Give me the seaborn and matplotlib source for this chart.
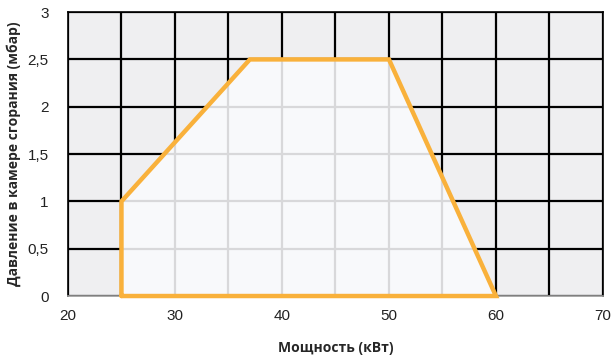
import numpy as np
import pandas as pd
import matplotlib
matplotlib.use("Agg")
import matplotlib.pyplot as plt
import seaborn as sns

# operating field of the burner
power_kw = [25, 25, 37, 50, 60, 25]
pressure_mbar = [0, 1, 2.5, 2.5, 0, 0]

x_ticks = [20, 30, 40, 50, 60, 70]
y_ticks = [0, 0.5, 1, 1.5, 2, 2.5, 3]
y_tick_labels = ["0", "0,5", "1", "1,5", "2", "2,5", "3"]
x_grid = np.arange(20, 71, 5)
y_grid = np.arange(0, 3.01, 0.5)

sns.set_style("white")
plt.rcParams["font.family"] = ["Liberation Sans", "DejaVu Sans"]

fig = plt.figure(figsize=(6.14, 3.56), dpi=100)
ax = fig.add_axes([0.1107, 0.1685, 0.8713, 0.7975])
ax.set_facecolor("#efeff1")
ax.set_xlim(20, 70)
ax.set_ylim(0, 3)

# black grid outside the field
for gx in x_grid:
    ax.axvline(gx, color="black", lw=1.6, zorder=1)
for gy in y_grid:
    ax.axhline(gy, color="black", lw=1.6, zorder=1)

df = pd.DataFrame({"power": power_kw, "pressure": pressure_mbar})
patch = ax.fill(df["power"], df["pressure"], color="#f8f9fb", zorder=2)[0]

# light grid inside the field
for gx in x_grid:
    ln = ax.axvline(gx, color="#d8d8da", lw=1.6, zorder=3)
    ln.set_clip_path(patch)
for gy in y_grid:
    ln = ax.axhline(gy, color="#d8d8da", lw=1.6, zorder=3)
    ln.set_clip_path(patch)

sns.lineplot(data=df, x="power", y="pressure", sort=False, estimator=None,
             color="#f9b13b", lw=3.2, ax=ax, zorder=4)
for l in ax.lines[-1:]:
    l.set_clip_on(False)
    l.set_solid_joinstyle("miter")

ax.set_xticks(x_ticks)
ax.set_yticks(y_ticks)
ax.set_yticklabels(y_tick_labels)
ax.tick_params(length=0, labelsize=11, colors="#222222")
ax.tick_params(axis="x", pad=9)
ax.tick_params(axis="y", pad=14)
for s in ax.spines.values():
    s.set_color("black")
    s.set_linewidth(1.2)
ax.spines["bottom"].set_color("#999999")

label_font = dict(family=["Open Sans", "DejaVu Sans"], fontsize=10, fontweight="bold")
ax.set_xlabel("Мощность (кВт)", labelpad=13, **label_font)
ax.set_ylabel("Давление в камере сгорания (мбар)", **label_font)
ax.yaxis.set_label_coords(-0.087, 0.5)

fig.savefig("out.png", dpi=100)
